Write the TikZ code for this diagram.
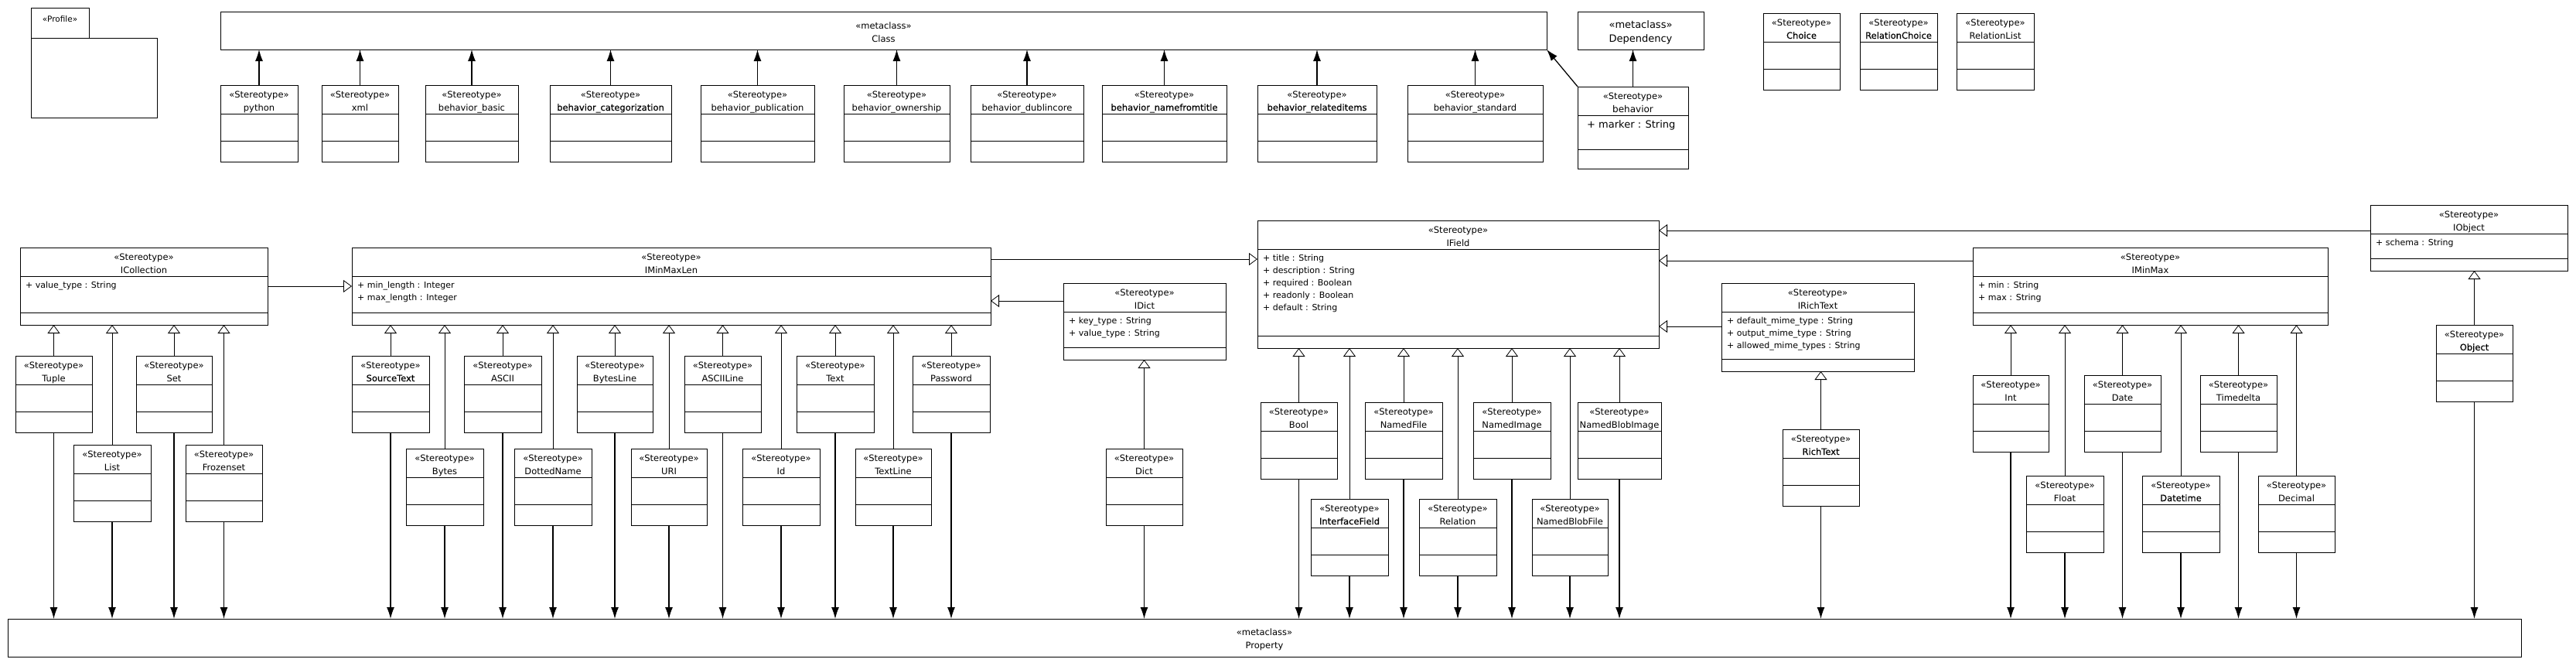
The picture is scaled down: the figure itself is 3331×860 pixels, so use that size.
\documentclass[tikz,border=0pt]{standalone}
\usepackage{fontspec}
\setmainfont{DejaVu Sans}
\newfontfamily\semib{DejaVu Sans}[FakeBold=0.4]
\usetikzlibrary{arrows.meta}

\tikzset{
  frame/.style={draw,line width=0.9pt,anchor=north west,inner sep=0pt,outer sep=0pt},
  st/.style={font=\fontsize{11.5}{14}\selectfont,anchor=base,inner sep=0pt},
  attr/.style={font=\fontsize{11}{13}\selectfont,anchor=base west,inner sep=0pt},
  sep/.style={line width=0.9pt},
  ext/.style={-{Latex[length=15pt,width=10pt]},line width=1.3pt},
  gen/.style={-{Triangle[open,length=11pt,width=16pt,fill=white]},line width=0.8pt}
}

% stereotype box with empty compartments
\newcommand{\stbox}[5]{%
  \node[frame,minimum width=#4pt,minimum height=99pt] (#1) at (#2,#3) {};
  \draw[sep] ([yshift=-37pt]#1.north west) -- ([yshift=-37pt]#1.north east)
    ([yshift=-72pt]#1.north west) -- ([yshift=-72pt]#1.north east);
  \node[st] at ([yshift=-16pt]#1.north) {«Stereotype»};
  \node[st] at ([yshift=-33pt]#1.north) {#5};}

% stereotype box with attributes
\newcommand{\ibox}[7]{%
  \node[frame,minimum width=#4pt,minimum height=#5pt] (#1) at (#2,#3) {};
  \draw[sep] ([yshift=-37pt]#1.north west) -- ([yshift=-37pt]#1.north east)
    ([yshift=16pt]#1.south west) -- ([yshift=16pt]#1.south east);
  \node[st] at ([yshift=-16pt]#1.north) {«Stereotype»};
  \node[st] at ([yshift=-33pt]#1.north) {#6};
  \foreach \a [count=\i] in {#7}
    \node[attr] at ([xshift=7pt,yshift={-52pt-16pt*(\i-1)}]#1.north west) {\a};}

\begin{document}
\begin{tikzpicture}[x=1pt,y=-1pt]
  \useasboundingbox (0,0) rectangle (3331,860);

  % profile
  \node[frame,minimum width=75pt,minimum height=39pt] (proftab) at (40,10) {};
  \node[frame,minimum width=163pt,minimum height=103pt] (prof) at (40,49) {};
  \node[st,font=\fontsize{10.5}{12}\selectfont] at ([yshift=-18pt]proftab.north) {«Profile»};

  % metaclasses
  \node[frame,minimum width=1715pt,minimum height=49pt] (cls) at (285,15) {};
  \node[st] at ([yshift=2.5pt]cls.center) {«metaclass»};
  \node[st] at ([yshift=-14.5pt]cls.center) {Class};
  \node[frame,minimum width=163pt,minimum height=49pt] (dep) at (2040,15) {};
  \node[st,font=\fontsize{13}{16}\selectfont] at ([yshift=3.5pt]dep.center) {«metaclass»};
  \node[st,font=\fontsize{13}{16}\selectfont] at ([yshift=-15pt]dep.center) {Dependency};
  \node[frame,minimum width=3250pt,minimum height=49pt] (prop) at (10,800) {};
  \node[st] at ([yshift=3pt]prop.center) {«metaclass»};
  \node[st] at ([yshift=-14pt]prop.center) {Property};

  % behaviors
  \foreach \nm/\px/\py/\bw/\txt in {python/285/110/100/python, xml/416/110/99/xml,
      bbasic/550/110/120/behavior\_basic,
      bcat/711/110/157/{\semib behavior\_categorization},
      bpub/906/110/147/behavior\_publication,
      bown/1091/110/137/behavior\_ownership,
      bdub/1255/110/146/behavior\_dublincore,
      bname/1425/110/161/{\semib behavior\_namefromtitle},
      brel/1626/110/154/{\semib behavior\_relateditems},
      bstd/1820/110/175/behavior\_standard} {
    \stbox{\nm}{\px}{\py}{\bw}{\txt}
    \draw[ext] (\nm.north) -- (\nm.north |- cls.south);
  }

  \node[frame,minimum width=143pt,minimum height=106pt] (behavior) at (2040,112) {};
  \draw[sep] ([yshift=-37pt]behavior.north west) -- ([yshift=-37pt]behavior.north east)
    ([yshift=-81pt]behavior.north west) -- ([yshift=-81pt]behavior.north east);
  \node[st] at ([yshift=-16pt]behavior.north) {«Stereotype»};
  \node[st,font=\fontsize{12}{14}\selectfont] at ([yshift=-33pt]behavior.north) {behavior};
  \node[attr,font=\fontsize{13}{15}\selectfont] at ([xshift=12pt,yshift=-53pt]behavior.north west) {+ marker : String};
  \draw[ext] (behavior.north) -- (behavior.north |- dep.south);
  \draw[ext] (behavior.north west) -- (cls.south east);

  \stbox{choice}{2280}{17}{99}{\semib Choice}
  \stbox{relchoice}{2405}{17}{100}{\semib RelationChoice}
  \stbox{rellist}{2530}{17}{100}{RelationList}

  % interfaces
  \ibox{icoll}{26}{320}{320}{100}{ICollection}{+ value\_type : String}
  \ibox{imml}{455}{320}{826}{100}{IMinMaxLen}{+ min\_length : Integer, + max\_length : Integer}
  \ibox{idict}{1375}{366}{210}{99}{IDict}{+ key\_type : String, + value\_type : String}
  \ibox{ifield}{1626}{285}{519}{165}{IField}{+ title : String, + description : String,
    + required : Boolean, + readonly : Boolean, + default : String}
  \ibox{irich}{2226}{366}{249}{114}{IRichText}{+ default\_mime\_type : String,
    + output\_mime\_type : String, + allowed\_mime\_types : String}
  \ibox{imm}{2551}{320}{459}{100}{IMinMax}{+ min : String, + max : String}
  \ibox{iobj}{3065}{265}{255}{85}{IObject}{+ schema : String}

  \draw[gen] (icoll.east) -- (icoll.east -| imml.west);
  \draw[gen] ([yshift=-15pt]imml.north east) -- ([yshift=-15pt]imml.north east -| ifield.west);
  \draw[gen] ([yshift=-23pt]idict.north west) -- ([yshift=-23pt]idict.north west -| imml.east);
  \draw[gen] ([yshift=-33pt]iobj.north west) -- ([yshift=-33pt]iobj.north west -| ifield.east);
  \draw[gen] ([yshift=-17pt]imm.north west) -- ([yshift=-17pt]imm.north west -| ifield.east);
  \draw[gen] ([yshift=-56pt]irich.north west) -- ([yshift=-56pt]irich.north west -| ifield.east);

  % field types
  \foreach \nm/\px/\py/\bw/\txt/\up in {Tuple/20/460/99/Tuple/icoll, List/95/575/100/List/icoll,
      Set/176/460/98/Set/icoll, Frozenset/240/575/99/Frozenset/icoll,
      SourceText/455/460/100/{\semib SourceText}/imml, Bytes/525/580/100/Bytes/imml,
      ASCII/600/460/100/ASCII/imml, DottedName/665/580/100/DottedName/imml,
      BytesLine/746/460/98/BytesLine/imml, URI/816/580/98/URI/imml,
      ASCIILine/885/460/99/ASCIILine/imml, Id/960/580/100/Id/imml,
      Text/1030/460/100/Text/imml, TextLine/1106/580/98/TextLine/imml,
      Password/1180/460/100/Password/imml,
      Dict/1430/580/99/Dict/idict,
      Bool/1630/520/99/Bool/ifield, InterfaceField/1695/645/100/{\semib InterfaceField}/ifield,
      NamedFile/1765/520/100/NamedFile/ifield, Relation/1835/645/100/Relation/ifield,
      NamedImage/1905/520/100/NamedImage/ifield, NamedBlobFile/1981/645/98/NamedBlobFile/ifield,
      NamedBlobImage/2040/520/108/NamedBlobImage/ifield,
      RichText/2305/555/99/{\semib RichText}/irich,
      Int/2551/485/98/Int/imm, Float/2620/615/100/Float/imm,
      Date/2695/485/99/Date/imm, Datetime/2770/615/100/{\semib Datetime}/imm,
      Timedelta/2845/485/99/Timedelta/imm, Decimal/2920/615/99/Decimal/imm,
      Object/3150/420/99/{\semib Object}/iobj} {
    \stbox{\nm}{\px}{\py}{\bw}{\txt}
    \draw[gen] (\nm.north) -- (\nm.north |- \up.south);
    \draw[ext] (\nm.south) -- (\nm.south |- prop.north);
  }
\end{tikzpicture}
\end{document}
